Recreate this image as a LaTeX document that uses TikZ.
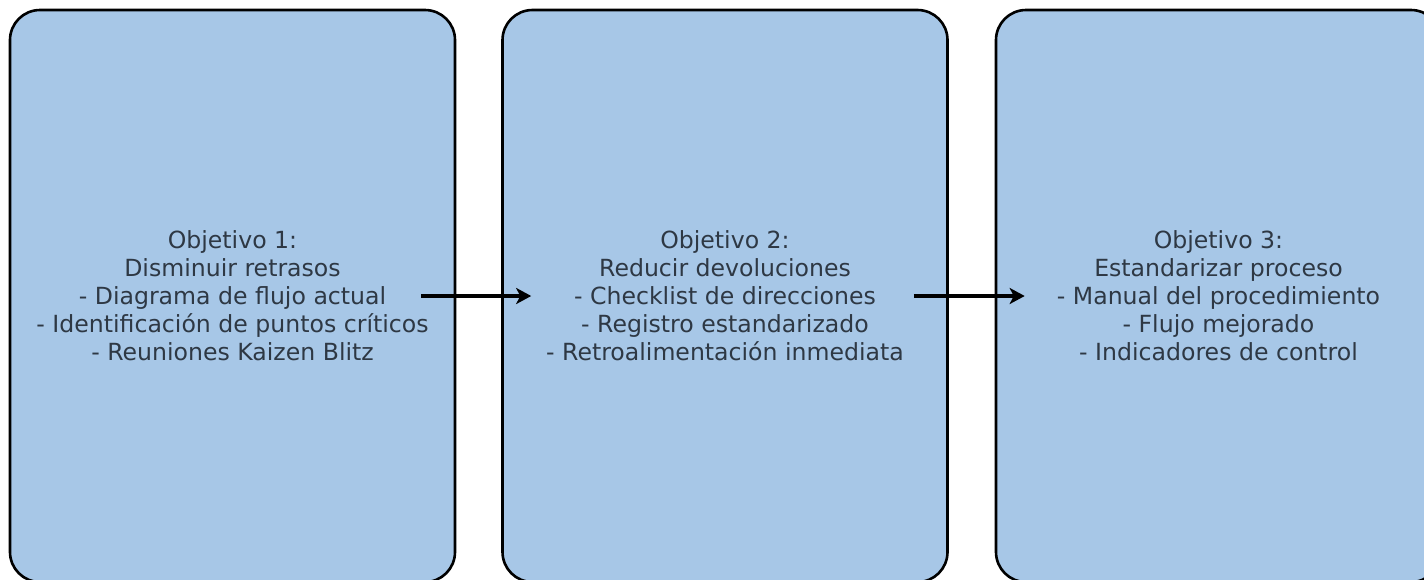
\documentclass[tikz,border=0pt]{standalone}
\usepackage{fontspec}
\setmainfont{DejaVu Sans}
\usetikzlibrary{arrows.meta}
\definecolor{objblue}{RGB}{167,199,231}
\definecolor{objtext}{RGB}{46,56,68}
\begin{document}
\begin{tikzpicture}[x=1pt,y=-1pt,
		objbox/.style={draw=black,line width=2.6pt,fill=objblue,rounded corners=30pt,
			minimum width=445pt,minimum height=572pt,inner sep=0pt,align=center,
			text=objtext,font=\fontsize{23.6}{28}\selectfont},
		flow/.style={line width=4.3pt,-{Stealth[length=15pt,width=16pt,inset=4pt]}}]
		\useasboundingbox (0,0) rectangle (1424,579);

		\node[objbox] (obj1) at (232.5,296) {Objetivo 1:\\Disminuir retrasos\\- Diagrama de flujo actual\\- Identificación de puntos críticos\\- Reuniones Kaizen Blitz};
		\node[objbox] (obj2) at (725,296) {Objetivo 2:\\Reducir devoluciones\\- Checklist de direcciones\\- Registro estandarizado\\- Retroalimentación inmediata};
		\node[objbox] (obj3) at (1218.5,296) {Objetivo 3:\\Estandarizar proceso\\- Manual del procedimiento\\- Flujo mejorado\\- Indicadores de control};

		\draw[flow] ([xshift=-35pt]obj1.east) -- ([xshift=30pt]obj2.west);
		\draw[flow] ([xshift=-35pt]obj2.east) -- ([xshift=30pt]obj3.west);
	\end{tikzpicture}
\end{document}
